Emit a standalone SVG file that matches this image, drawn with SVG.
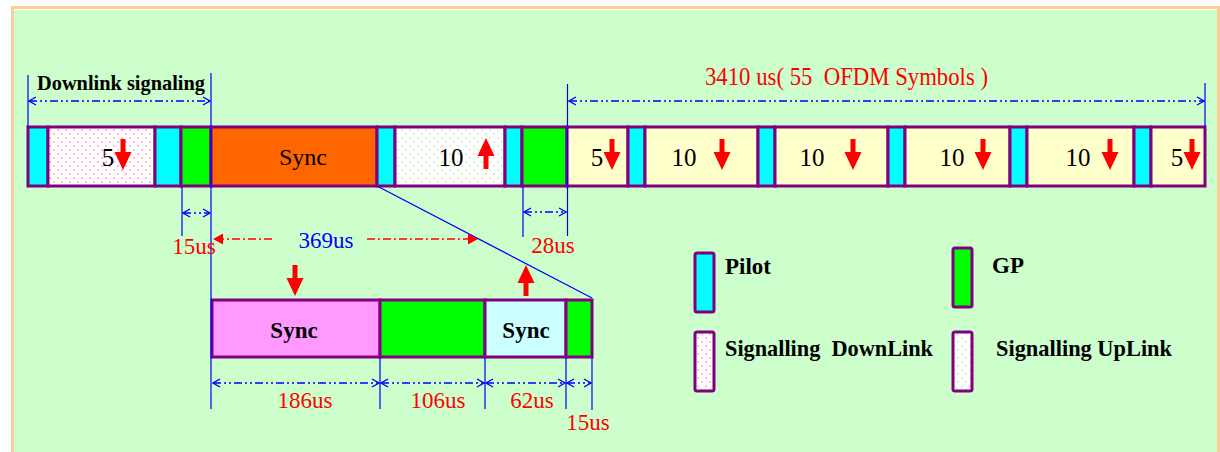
<svg xmlns="http://www.w3.org/2000/svg" width="1220" height="452" viewBox="0 0 1220 452">
<style>
.seg{stroke:#800080;stroke-width:3}
.pilot{fill:#00FFFF}
.gp{fill:#00FF00}
.data{fill:#FFFFCC}
.dl{fill:url(#dotPink)}
.ul{fill:url(#dotGreen)}
text{font-family:"Liberation Serif","Times New Roman","DejaVu Serif",serif}
.num{font-size:25px;fill:#000;text-anchor:middle}
.red{font-size:23px;fill:#FF0000;text-anchor:middle}
.blue{font-size:23px;fill:#0000FF;text-anchor:middle}
.bold{font-weight:bold;font-size:23px;fill:#000}
.vl{stroke:#0000FF;stroke-width:1.2;fill:none}
.dim{stroke:#0000FF;stroke-width:1.6;fill:none;stroke-dasharray:8 3 2 3 2 3;marker-start:url(#chevS);marker-end:url(#chevE)}
.rdim{stroke:#FF0000;stroke-width:1.6;fill:none;stroke-dasharray:8 3 2 3}
.arr{fill:#FF0000}
</style>
<defs>
<pattern id="dotPink" width="8" height="8" patternUnits="userSpaceOnUse">
<rect width="8" height="8" fill="#FFFFFF"/>
<circle cx="2" cy="2" r="1" fill="#FFA6D2"/>
<circle cx="6" cy="6" r="1" fill="#FFA6D2"/>
</pattern>
<pattern id="dotGreen" width="8" height="8" patternUnits="userSpaceOnUse">
<rect width="8" height="8" fill="#FFFFFF"/>
<circle cx="2" cy="2" r="1" fill="#C8F0C8"/>
<circle cx="6" cy="6" r="1" fill="#C8F0C8"/>
</pattern>
<marker id="chevE" markerWidth="10" markerHeight="10" refX="9" refY="5" orient="auto" markerUnits="userSpaceOnUse">
<path d="M2,1 L9,5 L2,9" fill="none" stroke="#0000FF" stroke-width="1.3"/>
</marker>
<marker id="chevS" markerWidth="10" markerHeight="10" refX="1" refY="5" orient="auto" markerUnits="userSpaceOnUse">
<path d="M8,1 L1,5 L8,9" fill="none" stroke="#0000FF" stroke-width="1.3"/>
</marker>
<path id="down" d="M-2.5,0 H2.5 V13 H8.5 L0,31 L-8.5,13 H-2.5 Z"/>
<path id="up" d="M-2.5,31 H2.5 V18 H8.5 L0,0 L-8.5,18 H-2.5 Z"/>
</defs>

<g id="background">
<rect x="11" y="6" width="1209" height="446" fill="#FFCC99"/>
<rect x="14" y="9" width="1203" height="443" fill="#CCFFCC"/>
<line x1="14" y1="9.5" x2="1217" y2="9.5" stroke="#FFFFFF" stroke-width="1"/>
</g>

<g id="main-bar">
<g id="pilot1"><rect class="seg pilot" x="28" y="127" width="20" height="59"/></g>
<g id="sig-dl"><rect class="seg dl" x="48" y="127" width="107" height="59"/>
<text class="num" x="108" y="166">5</text><use href="#down" x="123" y="139" class="arr"/></g>
<g id="pilot2"><rect class="seg pilot" x="155" y="127" width="26" height="59"/></g>
<g id="gp1"><rect class="seg gp" x="181" y="127" width="30" height="59"/></g>
<g id="sync"><rect class="seg" x="211" y="127" width="166" height="59" fill="#FF6600"/>
<text class="num" x="303" y="165" style="font-size:24px">Sync</text></g>
<g id="pilot3"><rect class="seg pilot" x="377" y="127" width="18" height="59"/></g>
<g id="sig-ul"><rect class="seg ul" x="395" y="127" width="110" height="59"/>
<text class="num" x="451" y="166">10</text><use href="#up" x="486" y="138" class="arr"/></g>
<g id="pilot4"><rect class="seg pilot" x="505" y="127" width="17" height="59"/></g>
<g id="gp2"><rect class="seg gp" x="522" y="127" width="45" height="59"/></g>
<g id="d1"><rect class="seg data" x="567" y="127" width="61" height="59"/>
<text class="num" x="597" y="166">5</text><use href="#down" x="612" y="139" class="arr"/></g>
<g id="pilot5"><rect class="seg pilot" x="628" y="127" width="17" height="59"/></g>
<g id="d2"><rect class="seg data" x="645" y="127" width="113" height="59"/>
<text class="num" x="684" y="166">10</text><use href="#down" x="722" y="139" class="arr"/></g>
<g id="pilot6"><rect class="seg pilot" x="758" y="127" width="17" height="59"/></g>
<g id="d3"><rect class="seg data" x="775" y="127" width="113" height="59"/>
<text class="num" x="812" y="166">10</text><use href="#down" x="853" y="139" class="arr"/></g>
<g id="pilot7"><rect class="seg pilot" x="888" y="127" width="17" height="59"/></g>
<g id="d4"><rect class="seg data" x="905" y="127" width="105" height="59"/>
<text class="num" x="952" y="166">10</text><use href="#down" x="983" y="139" class="arr"/></g>
<g id="pilot8"><rect class="seg pilot" x="1010" y="127" width="17" height="59"/></g>
<g id="d5"><rect class="seg data" x="1027" y="127" width="107" height="59"/>
<text class="num" x="1078" y="166">10</text><use href="#down" x="1110" y="139" class="arr"/></g>
<g id="pilot9"><rect class="seg pilot" x="1134" y="127" width="17" height="59"/></g>
<g id="d6"><rect class="seg data" x="1151" y="127" width="54" height="59"/>
<text class="num" x="1177" y="166">5</text><use href="#down" x="1192" y="139" class="arr"/></g>
</g>

<g id="zoom-bar">
<g id="z-sync-dl"><rect class="seg" x="212" y="300" width="168" height="57" fill="#FF99FF"/>
<text class="bold" x="294" y="338" style="text-anchor:middle">Sync</text></g>
<g id="z-gp1"><rect class="seg gp" x="380" y="300" width="105" height="57"/></g>
<g id="z-sync-ul"><rect class="seg" x="485" y="300" width="81" height="57" fill="#CCFFFF"/>
<text class="bold" x="526" y="338" style="text-anchor:middle">Sync</text></g>
<g id="z-gp2"><rect class="seg gp" x="566" y="300" width="26" height="57"/></g>
<use href="#down" x="295" y="265" class="arr"/>
<use href="#up" x="526" y="265" class="arr"/>
</g>

<g id="connectors">
<line class="vl" x1="28" y1="75" x2="28" y2="127"/>
<line class="vl" x1="211" y1="73" x2="211" y2="409"/>
<line class="vl" x1="567.5" y1="84" x2="567.5" y2="236"/>
<line class="vl" x1="1205" y1="83" x2="1205" y2="127"/>
<line class="vl" x1="182" y1="186" x2="182" y2="236"/>
<line class="vl" x1="523" y1="186" x2="523" y2="237"/>
<line class="vl" x1="377" y1="186" x2="592" y2="298"/>
<line class="vl" x1="380" y1="357" x2="380" y2="409"/>
<line class="vl" x1="485" y1="357" x2="485" y2="409"/>
<line class="vl" x1="566" y1="357" x2="566" y2="409"/>
<line class="vl" x1="592" y1="357" x2="592" y2="410"/>
<line class="dim" x1="29" y1="101" x2="210" y2="101"/>
<line class="dim" x1="569" y1="101" x2="1204" y2="101"/>
<line class="dim" x1="183" y1="213" x2="210" y2="213"/>
<line class="dim" x1="524" y1="212" x2="566" y2="212"/>
<line class="dim" x1="213" y1="383" x2="379" y2="383"/>
<line class="dim" x1="381" y1="383" x2="484" y2="383"/>
<line class="dim" x1="486" y1="383" x2="565" y2="383"/>
<line class="dim" x1="567" y1="383" x2="591" y2="383"/>
<line class="rdim" x1="272" y1="239" x2="222" y2="239"/>
<path class="arr" d="M213,239 L223,233.5 L223,244.5 Z"/>
<line class="rdim" x1="367" y1="239" x2="469" y2="239"/>
<path class="arr" d="M478,239 L468,233.5 L468,244.5 Z"/>
</g>

<g id="labels">
<text class="bold" x="37" y="90" style="font-size:21px" textLength="168" lengthAdjust="spacingAndGlyphs">Downlink signaling</text>
<text class="red" x="705" y="85" style="font-size:25px;text-anchor:start" textLength="283" lengthAdjust="spacingAndGlyphs" xml:space="preserve">3410 us( 55  OFDM Symbols )</text>
<text class="red" x="194" y="254">15us</text>
<text class="red" x="553" y="253">28us</text>
<text class="blue" x="326" y="248">369us</text>
<text class="red" x="305" y="408">186us</text>
<text class="red" x="438" y="408">106us</text>
<text class="red" x="532" y="408">62us</text>
<text class="red" x="588" y="430">15us</text>
</g>

<g id="legend">
<g id="leg-pilot"><rect class="seg pilot" x="695" y="253" width="19" height="59" rx="2"/>
<text class="bold" x="725" y="274">Pilot</text></g>
<g id="leg-gp"><rect class="seg gp" x="953" y="248" width="19" height="59" rx="2"/>
<text class="bold" x="992" y="273">GP</text></g>
<g id="leg-dl"><rect class="seg dl" x="695" y="332" width="19" height="59" rx="2"/>
<text class="bold" x="725" y="356" textLength="208" lengthAdjust="spacingAndGlyphs" xml:space="preserve">Signalling  DownLink</text></g>
<g id="leg-ul"><rect class="seg ul" x="953" y="332" width="19" height="59" rx="2"/>
<text class="bold" x="996" y="356" textLength="176" lengthAdjust="spacingAndGlyphs">Signalling UpLink</text></g>
</g>
</svg>
